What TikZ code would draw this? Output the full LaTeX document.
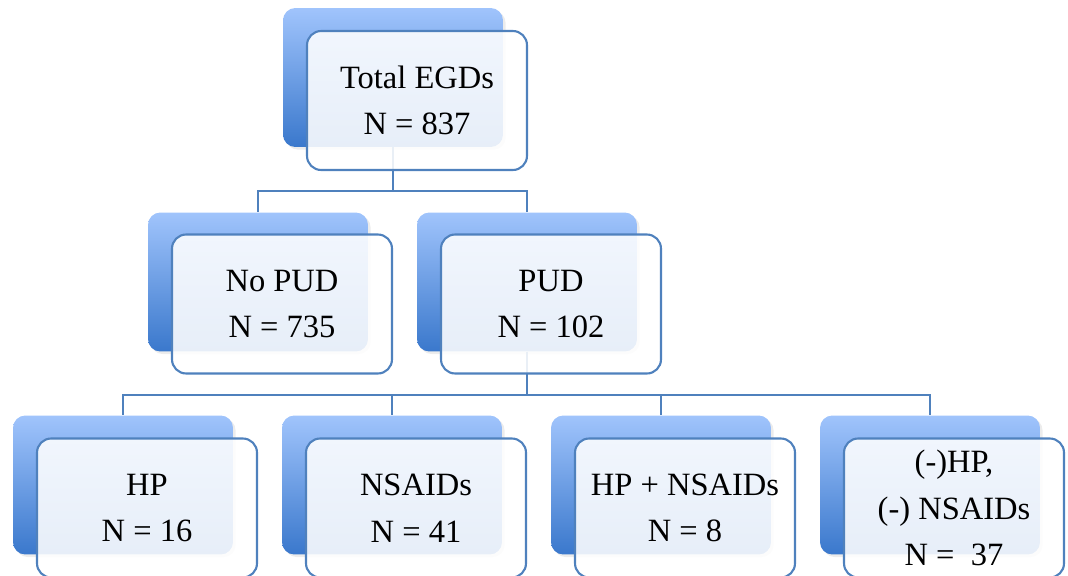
\documentclass[tikz,border=0pt]{standalone}
\usepackage{fontspec}
\setmainfont{Liberation Serif}
\usetikzlibrary{positioning,shadows}
\definecolor{bktop}{RGB}{160,196,252}
\definecolor{bkbot}{RGB}{58,120,204}
\definecolor{lnblue}{RGB}{79,129,189}

\begin{document}
\begin{tikzpicture}[x=0.02cm,y=-0.02cm,font=\fontsize{18.5}{26.5}\selectfont]
\tikzset{
  BK/.style={rectangle,rounded corners=7pt,minimum width=4.4cm,minimum height=2.78cm,top color=bktop,bottom color=bkbot,draw=none,drop shadow={opacity=0.15,shadow xshift=1.5pt,shadow yshift=-1.5pt}},
  FR/.style={rectangle,rounded corners=8pt,minimum width=4.4cm,minimum height=2.78cm,draw=lnblue,line width=1.2pt,fill=white,fill opacity=0.88,text opacity=1,align=center},
  CN/.style={draw=lnblue,line width=1.1pt},
}
\useasboundingbox (0,0) rectangle (1068,575);

% back boxes
\node[BK](b0) at (393,77.5){};
\node[BK](b1) at (258,282){};
\node[BK](b2) at (527,282){};
\node[BK](b3) at (123,485){};
\node[BK](b4) at (392,485){};
\node[BK](b5) at (661,485){};
\node[BK](b6) at (930,485){};

% connectors
\draw[CN](b0.south)--++(0,44)-|(b1.north);
\draw[CN](b0.south)--++(0,44)-|(b2.north);
\draw[CN](b2.south)--++(0,43)-|(b3.north);
\draw[CN](b2.south)--++(0,43)-|(b4.north);
\draw[CN](b2.south)--++(0,43)-|(b5.north);
\draw[CN](b2.south)--++(0,43)-|(b6.north);

% front boxes
\node[FR](total) at (417,100.5){Total EGDs\\N = 837};
\node[FR](nopud) at (282,304){No PUD\\N = 735};
\node[FR](pud)   at (551,304){PUD\\N = 102};
\node[FR](hp)    at (147,508){HP\\N = 16};
\node[FR](nsaid) at (416,508){NSAIDs\\N = 41};
\node[FR](both)  at (685,508){HP + NSAIDs\\N = 8};
\node[FR](none)  at (954,508){(-)HP,\\(-) NSAIDs\\N = \ 37};

\end{tikzpicture}
\end{document}
